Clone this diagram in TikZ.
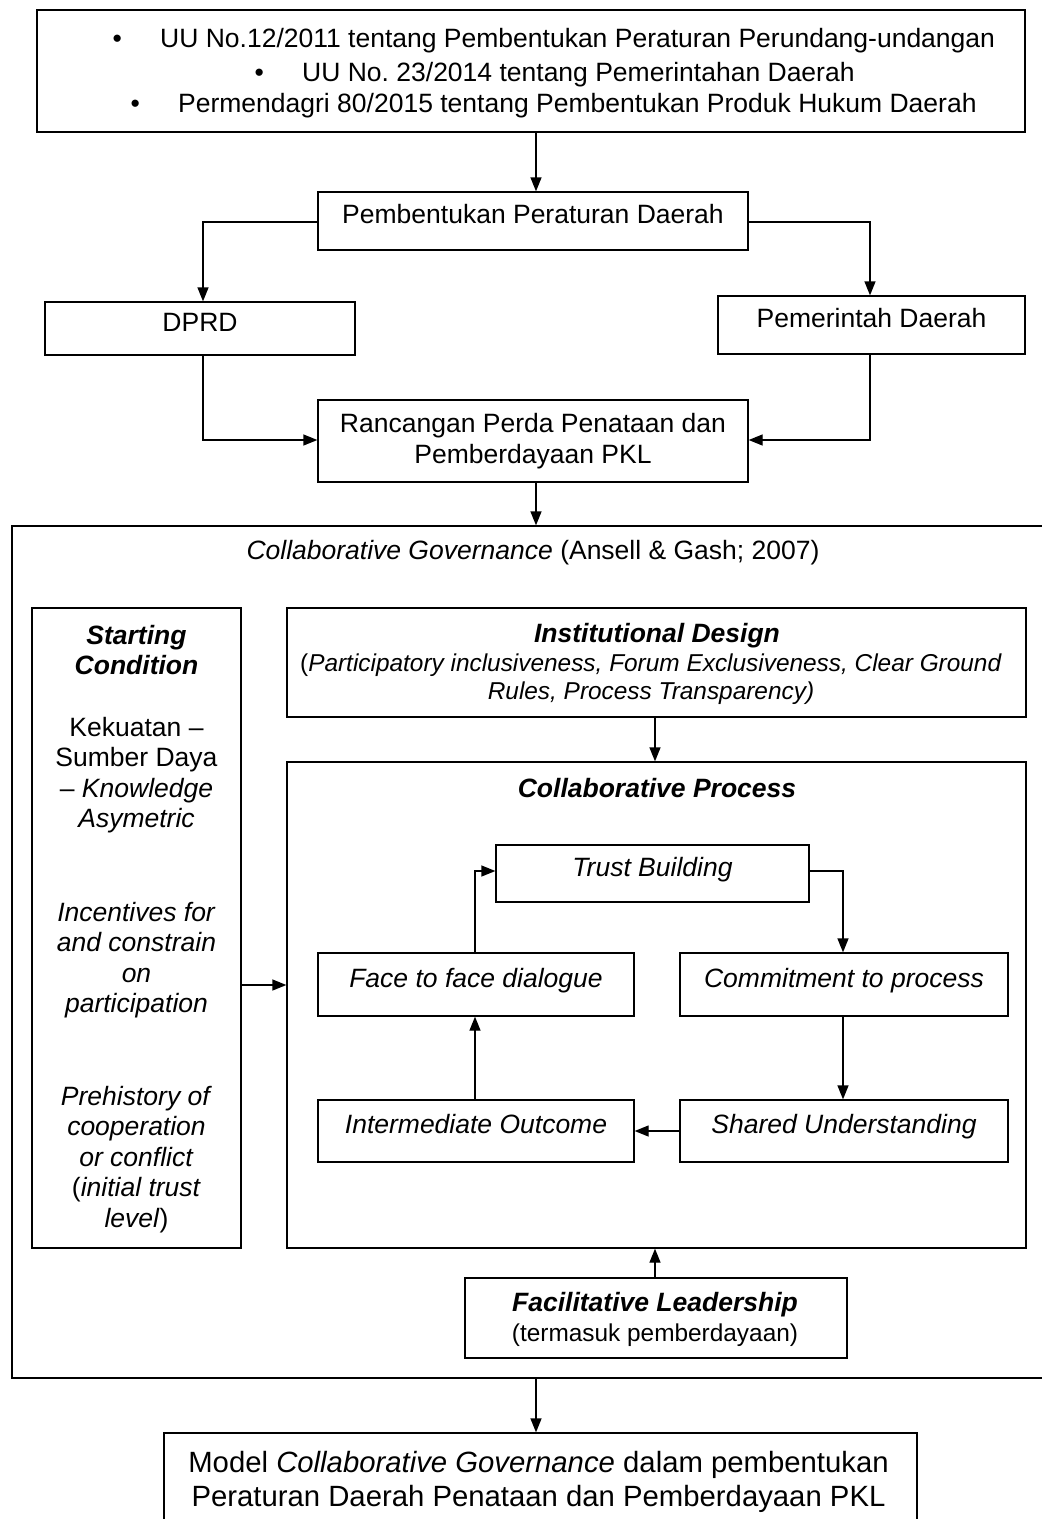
\documentclass[tikz,border=0pt]{standalone}
\usepackage{fontspec}
\setmainfont{Liberation Sans}
\usetikzlibrary{arrows.meta}

\begin{document}
\begin{tikzpicture}[x=1pt,y=-1pt,
  box/.style={draw, line width=1.3pt, inner sep=0pt},
  txt/.style={font=\fontsize{26.5}{30.5}\selectfont, align=center},
  one/.style={txt, text height=0.72em, text depth=0.15em},
  small/.style={font=\fontsize{24.4}{27.5}\selectfont, align=center},
  large/.style={font=\fontsize{29.3}{34.5}\selectfont, align=center},
  arr/.style={line width=1.3pt, -{Triangle[length=14pt,width=11pt]}},
  bi/.style={font=\fontsize{26.5}{30.5}\selectfont\bfseries\itshape}]

\useasboundingbox (0,0) rectangle (1042,1519);
\clip (0,0) rectangle (1042,1519);

% legal basis
\node[box, minimum width=988pt, minimum height=122pt] (laws) at (531,71) {};
\node[txt, inner sep=0pt, anchor=base west] (law1) at (117,47.5)
  {\makebox[0pt][c]{\textbullet}\hspace{43pt}UU No.12/2011 tentang Pembentukan Peraturan Perundang-undangan};
\node[txt, inner sep=0pt, anchor=base west] (law2) at (259,81.5)
  {\makebox[0pt][c]{\textbullet}\hspace{43pt}UU No.\ 23/2014 tentang Pemerintahan Daerah};
\node[txt, inner sep=0pt, anchor=base west] (law3) at (135,112.5)
  {\makebox[0pt][c]{\textbullet}\hspace{43pt}Permendagri 80/2015 tentang Pembentukan Produk Hukum Daerah};

% drafting of the regional regulation
\node[box, one, minimum width=430pt, minimum height=58pt] (pemb) at (533,221) {Pembentukan Peraturan Daerah};
\node[box, one, minimum width=310pt, minimum height=53pt] (dprd) at (200,328.5) {DPRD};
\node[box, one, minimum width=307pt, minimum height=58pt] (pemda) at (871.5,325) {Pemerintah Daerah};
\node[box, txt, minimum width=430pt, minimum height=82pt] (raperda) at (533,441) {Rancangan Perda Penataan dan\\Pemberdayaan PKL};

% collaborative governance frame
\node[box, minimum width=1048pt, minimum height=852pt] (cg) at (536,952) {};
\node[txt, inner sep=0pt] (cgtitle) at (533,553) {\textit{Collaborative Governance} (Ansell \& Gash; 2007)};

\node[box, minimum width=209pt, minimum height=640pt] (start) at (136.5,928) {};
\node[txt, inner sep=0pt, anchor=north] (starttext) at (136.5,625) {%
  \textbf{\textit{Starting}}\\ \textbf{\textit{Condition}}\\[31pt]
  Kekuatan --\\ Sumber Daya\\ -- \textit{Knowledge}\\ \textit{Asymetric}\\[63pt]
  \textit{Incentives for}\\ \textit{and constrain}\\ \textit{on}\\ \textit{participation}\\[62pt]
  \textit{Prehistory of}\\ \textit{cooperation}\\ \textit{or conflict}\\ (\textit{initial trust}\\ \textit{level})};

\node[box, minimum width=739pt, minimum height=109pt] (inst) at (656.5,662.5) {};
\node[bi, inner sep=0pt] (insttitle) at (657,636) {Institutional Design};
\node[small, inner sep=0pt] (instsub) at (651,679) {(\textit{Participatory inclusiveness, Forum Exclusiveness, Clear Ground}\\ \textit{Rules, Process Transparency)}};

\node[box, minimum width=739pt, minimum height=486pt] (proc) at (656.5,1005) {};
\node[bi, inner sep=0pt] (proctitle) at (657,788) {Collaborative Process};

\node[box, one, minimum width=313pt, minimum height=57pt] (trust) at (652.5,873.5) {\textit{Trust Building}};
\node[box, one, minimum width=316pt, minimum height=63pt] (face) at (476,984.5) {\textit{Face to face dialogue}};
\node[box, one, minimum width=328pt, minimum height=63pt] (commit) at (844,984.5) {\textit{Commitment to process}};
\node[box, one, minimum width=316pt, minimum height=62pt] (inter) at (476,1131) {\textit{Intermediate Outcome}};
\node[box, one, minimum width=328pt, minimum height=62pt] (shared) at (844,1131) {\textit{Shared Understanding}};

\node[box, minimum width=382pt, minimum height=80pt] (lead) at (656,1318) {};
\node[bi, inner sep=0pt] (leadtitle) at (655,1305) {Facilitative Leadership};
\node[small, inner sep=0pt] (leadsub) at (655,1335) {(termasuk pemberdayaan)};

% resulting model
\node[box, minimum width=753pt, minimum height=127pt] (model) at (540.5,1496.5) {};
\node[large, inner sep=0pt, anchor=north] (modeltext) at (538.5,1451) {Model \textit{Collaborative Governance} dalam pembentukan\\ Peraturan Daerah Penataan dan Pemberdayaan PKL};

% connectors
\draw[arr] (laws.south -| 536,0) -- (pemb.north -| 536,0);
\draw[arr] (pemb.west |- 0,222) -| (dprd.north -| 203,0);
\draw[arr] (pemb.east |- 0,222) -| (pemda.north -| 870,0);
\draw[arr] (dprd.south -| 203,0) |- (raperda.west |- 0,440);
\draw[arr] (pemda.south -| 870,0) |- (raperda.east |- 0,440);
\draw[arr] (raperda.south -| 536,0) -- (cg.north -| 536,0);
\draw[arr] (inst.south -| 655,0) -- (proc.north -| 655,0);
\draw[arr] (start.east |- 0,985) -- (proc.west |- 0,985);
\draw[arr] (face.north -| 475,0) |- (trust.west |- 0,871);
\draw[arr] (trust.east |- 0,871) -| (commit.north -| 843,0);
\draw[arr] (commit.south -| 843,0) -- (shared.north -| 843,0);
\draw[arr] (shared.west) -- (inter.east);
\draw[arr] (inter.north -| 475,0) -- (face.south -| 475,0);
\draw[arr] (lead.north -| 655,0) -- (proc.south -| 655,0);
\draw[arr] (cg.south -| 536,0) -- (model.north -| 536,0);
\end{tikzpicture}
\end{document}
